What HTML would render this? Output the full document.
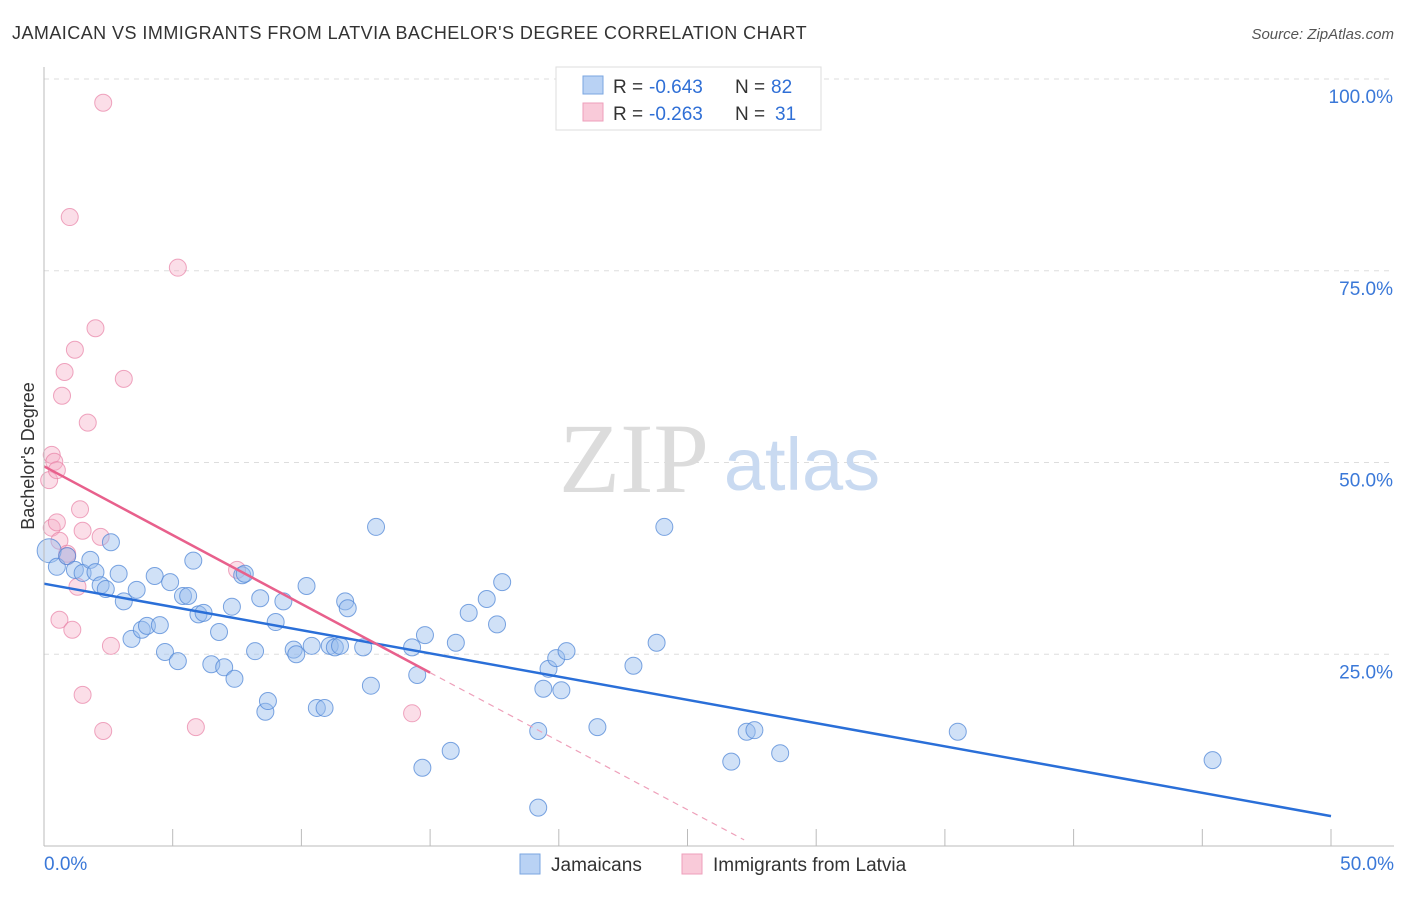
<!DOCTYPE html>
<html><head><meta charset="utf-8"><style>
body{margin:0;background:#fff;font-family:"Liberation Sans",sans-serif;}
</style></head><body>
<svg id="chart" width="1406" height="892" xmlns="http://www.w3.org/2000/svg" font-family="Liberation Sans, sans-serif">
<text x="12" y="39" font-size="18" fill="#333" letter-spacing="0.45">JAMAICAN VS IMMIGRANTS FROM LATVIA BACHELOR'S DEGREE CORRELATION CHART</text>
<text x="1394" y="39" font-size="15" fill="#555" font-style="italic" text-anchor="end">Source: ZipAtlas.com</text>
<g id="grid"></g>
<g>
<text x="634" y="492" font-size="100" style="font-family:'Liberation Serif',serif" fill="#dcdcdc" text-anchor="middle">ZIP</text>
<text x="802" y="490" font-size="74" fill="#c9daf1" text-anchor="middle">atlas</text>
</g>
<g id="pts"></g>
<g id="lines"></g>
<g id="axes"></g>
<text x="34" y="456" font-size="18" fill="#333" text-anchor="middle" transform="rotate(-90 34 456)">Bachelor's Degree</text>
<g>
<rect x="556" y="67" width="265" height="63" fill="#fff" stroke="#ddd"/>
<rect x="583" y="76" width="20" height="18" fill="#b9d2f4" stroke="#7aa6e0"/>
<rect x="583" y="103" width="20" height="18" fill="#f9cad9" stroke="#ee9fbb"/>
<text x="613" y="93" font-size="19" fill="#333">R =</text>
<text x="649" y="93" font-size="19" fill="#2f6fd6">-0.643</text>
<text x="735" y="93" font-size="19" fill="#333">N =</text>
<text x="771" y="93" font-size="19" fill="#2f6fd6">82</text>
<text x="613" y="120" font-size="19" fill="#333">R =</text>
<text x="649" y="120" font-size="19" fill="#2f6fd6">-0.263</text>
<text x="735" y="120" font-size="19" fill="#333">N =</text>
<text x="775" y="120" font-size="19" fill="#2f6fd6">31</text>
</g>
<g>
<rect x="520" y="854" width="20" height="20" fill="#b9d2f4" stroke="#7aa6e0"/>
<text x="551" y="871" font-size="19" fill="#333">Jamaicans</text>
<rect x="682" y="854" width="20" height="20" fill="#f9cad9" stroke="#ee9fbb"/>
<text x="713" y="871" font-size="19" fill="#333">Immigrants from Latvia</text>
</g>
</svg>
<script>
const blueX=[0.2,0.5,0.9,1.2,1.5,1.8,2.0,2.2,2.4,2.6,2.9,3.1,3.4,3.6,3.8,4.0,4.3,4.5,4.7,4.9,5.2,5.4,5.6,5.8,6.0,6.2,6.5,6.8,7.0,7.3,7.4,7.7,7.8,8.2,8.4,8.6,8.7,9.0,9.3,9.7,9.8,10.2,10.4,10.6,10.9,11.1,11.3,11.5,11.7,11.8,12.4,12.7,12.9,14.3,14.5,14.7,14.8,15.8,16.0,16.5,17.2,17.6,17.8,19.2,19.2,19.4,19.6,19.9,20.1,20.3,21.5,22.9,23.8,24.1,26.7,27.3,27.6,28.6,35.5,45.4];
const blueY=[38.5,36.4,37.8,36.0,35.6,37.3,35.7,34.0,33.5,39.6,35.5,31.9,27.0,33.4,28.2,28.7,35.2,28.8,25.3,34.4,24.1,32.6,32.6,37.2,30.2,30.4,23.7,27.9,23.3,31.2,21.8,35.3,35.5,25.4,32.3,17.5,18.9,29.2,31.9,25.6,25.0,33.9,26.1,18.0,18.0,26.1,25.9,26.1,31.9,31.0,25.9,20.9,41.6,25.9,22.3,10.2,27.5,12.4,26.5,30.4,32.2,28.9,34.4,5.0,15.0,20.5,23.1,24.5,20.3,25.4,15.5,23.5,26.5,41.6,11.0,14.9,15.1,12.1,14.9,11.2];
const pinkX=[0.2,0.3,0.4,0.5,0.3,0.5,0.6,0.8,0.7,0.9,0.9,1.0,1.2,1.3,1.4,1.5,1.7,0.6,1.1,1.5,2.0,2.2,2.3,2.3,2.6,3.1,5.2,5.9,7.5,14.3];
const pinkY=[47.7,51.0,50.1,49.0,41.5,42.2,39.8,61.8,58.7,38.1,37.8,82.0,64.7,33.8,43.9,41.1,55.2,29.5,28.2,19.7,67.5,40.3,96.9,15.0,26.1,60.9,75.4,15.5,36.0,17.3];
const blueFit=[34.2,3.9];
const pinkFit=[49.5,22.6,0.8];
const pinkFitX=[0,15,27.2];
const xTicks=[0,5,10,15,20,25,30,35,40,45,50];
const yTicks=[25,50,75,100];
const yTickLabels=["25.0%","50.0%","75.0%","100.0%"];
const NS="http://www.w3.org/2000/svg";
const X=v=>44+v/50*1287, Y=v=>846-v/100*767;
function mk(tag,attrs,parent){const e=document.createElementNS(NS,tag);for(const k in attrs)e.setAttribute(k,attrs[k]);parent.appendChild(e);return e;}
const grid=document.getElementById('grid'),axes=document.getElementById('axes'),pts=document.getElementById('pts'),lines=document.getElementById('lines');
yTicks.forEach((t,i)=>{
  const l=mk('line',{x1:44,x2:1394,y1:Y(t),y2:Y(t),stroke:'#ddd','stroke-dasharray':'5,5'},grid);
  
  
  const tx=mk('text',{x:1393,y:Y(t)+24,'font-size':19,fill:'#3a78d8','text-anchor':'end'},axes);
  tx.textContent=yTickLabels[i];
  
  
});
const ax=mk('line',{x1:44,x2:1394,y1:846,y2:846,stroke:'#bbb'},axes);


const ay=mk('line',{x1:44,x2:44,y1:67,y2:846,stroke:'#bbb'},axes);


xTicks.forEach(t=>{
  const l=mk('line',{x1:X(t),x2:X(t),y1:829,y2:846,stroke:'#bbb'},axes);
  
  
});
const xl0=mk('text',{x:44,y:870,'font-size':19,fill:'#3a78d8'},axes);xl0.textContent='0.0%';


const xl1=mk('text',{x:1394,y:870,'font-size':19,fill:'#3a78d8','text-anchor':'end'},axes);xl1.textContent='50.0%';


pinkX.forEach((x,i)=>{
  const c=mk('circle',{cx:X(x),cy:Y(pinkY[i]),r:8.5,fill:'rgba(246,172,198,0.4)',stroke:'rgba(232,128,165,0.7)','stroke-width':1},pts);
  
  
});
blueX.forEach((x,i)=>{
  const c=mk('circle',{cx:X(x),cy:Y(blueY[i]),r:i===0?12:8.5,fill:'rgba(150,188,238,0.45)',stroke:'rgba(80,135,215,0.75)','stroke-width':1},pts);
  
  
});
const bl=mk('line',{x1:X(0),y1:Y(blueFit[0]),x2:X(50),y2:Y(blueFit[1]),stroke:'#2a6fd8','stroke-width':2.5},lines);


const pl=mk('line',{x1:X(pinkFitX[0]),y1:Y(pinkFit[0]),x2:X(pinkFitX[1]),y2:Y(pinkFit[1]),stroke:'#e8608c','stroke-width':2.5},lines);


const pd=mk('line',{x1:X(pinkFitX[1]),y1:Y(pinkFit[1]),x2:X(pinkFitX[2]),y2:Y(pinkFit[2]),stroke:'#eea0ba','stroke-width':1.2,'stroke-dasharray':'6,5'},lines);


</script>
</body></html>
